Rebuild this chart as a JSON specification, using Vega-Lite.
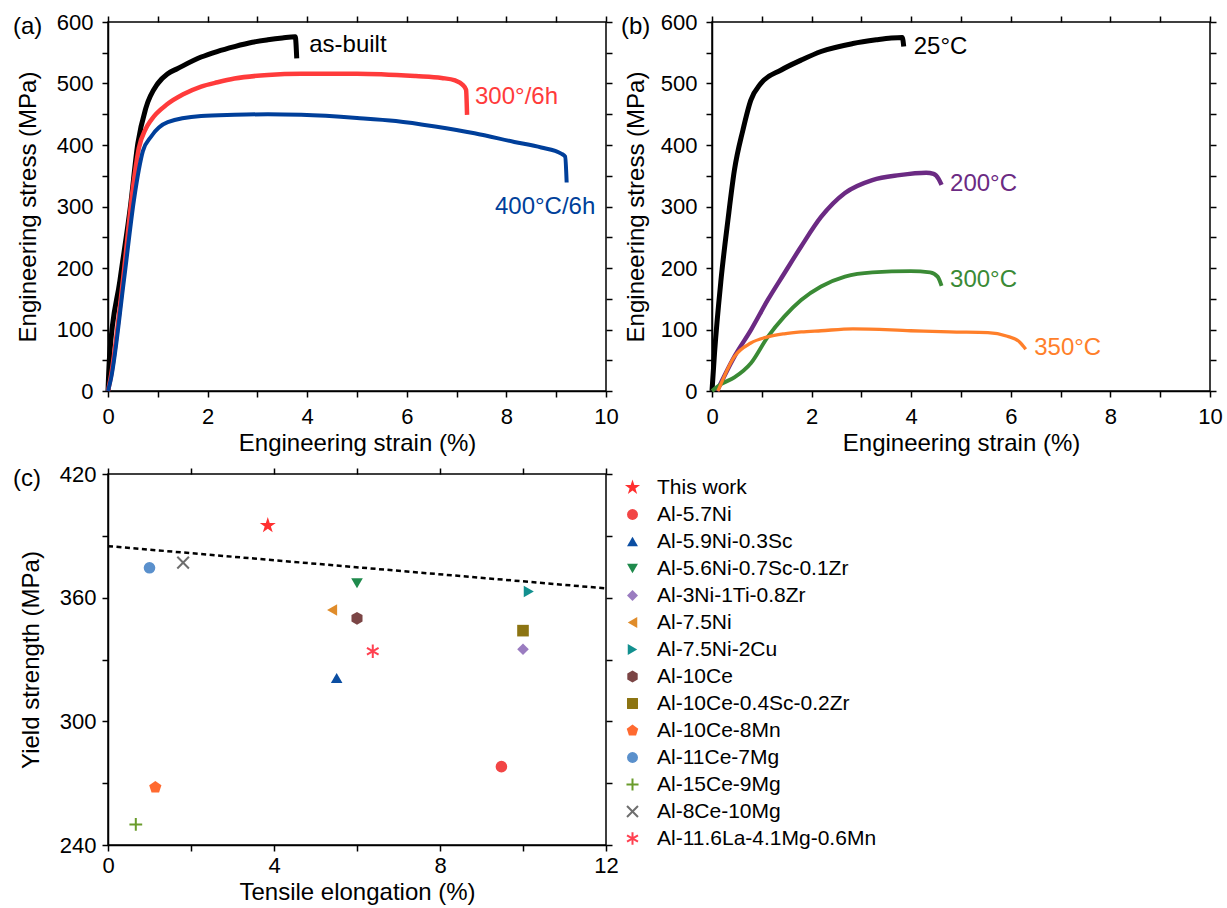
{
  "$schema": "https://vega.github.io/schema/vega-lite/v6.json",
  "background": "white",
  "padding": {"left": 12, "top": 10, "right": 0, "bottom": 0},
  "config": {
    "font": "Liberation Sans",
    "view": {"stroke": "black", "strokeWidth": 1.5},
    "axis": {"grid": false, "domainColor": "black", "domainWidth": 1.5, "tickColor": "black", "tickWidth": 1.5, "tickSize": 6,
      "labelFont": "Liberation Sans", "labelFontSize": 22, "labelColor": "black", "labelPadding": 9, "labelFlush": false, "labelOverlap": false,
      "titleFont": "Liberation Sans", "titleFontSize": 24, "titleFontWeight": "normal", "titleColor": "black"},
    "legend": {"labelFont": "Liberation Sans", "labelFontSize": 21, "labelColor": "black", "labelLimit": 0, "symbolSize": 120, "symbolStrokeWidth": 2, "rowPadding": 5, "offset": 6, "padding": 3, "labelOffset": 14},
    "title": {"font": "Liberation Sans", "fontSize": 24, "fontWeight": "normal", "color": "black"}
  },
  "resolve": {"scale": {"color": "independent", "strokeWidth": "independent", "fill": "independent", "stroke": "independent", "shape": "independent"}, "legend": {"fill": "independent", "stroke": "independent", "shape": "independent"}},
  "columns": 2,
  "spacing": {"row": 83, "column": 106},
  "bounds": "flush",
  "concat": [
    {
      "width": 498, "height": 369,
      "title": {"text": "(a)", "anchor": "start", "frame": "group", "dx": -95, "offset": 0, "dy": 40, "baseline": "middle"},
      "layer": [
        {
          "data": {"values": [
            {"series": "as-built", "strain": 0, "stress": 0}, {"series": "as-built", "strain": 0.03, "stress": 55}, {"series": "as-built", "strain": 0.24, "stress": 180}, {"series": "as-built", "strain": 0.45, "stress": 300}, {"series": "as-built", "strain": 0.6, "stress": 403}, {"series": "as-built", "strain": 0.76, "stress": 460}, {"series": "as-built", "strain": 1.0, "stress": 500}, {"series": "as-built", "strain": 1.2, "stress": 516}, {"series": "as-built", "strain": 1.39, "stress": 524}, {"series": "as-built", "strain": 1.87, "stress": 543}, {"series": "as-built", "strain": 2.19, "stress": 552}, {"series": "as-built", "strain": 2.54, "stress": 560}, {"series": "as-built", "strain": 2.9, "stress": 567}, {"series": "as-built", "strain": 3.21, "stress": 571}, {"series": "as-built", "strain": 3.5, "stress": 574}, {"series": "as-built", "strain": 3.76, "stress": 576}, {"series": "as-built", "strain": 3.79, "stress": 541},
            {"series": "300°/6h", "strain": 0, "stress": 0}, {"series": "300°/6h", "strain": 0.05, "stress": 20}, {"series": "300°/6h", "strain": 0.3, "stress": 180}, {"series": "300°/6h", "strain": 0.5, "stress": 330}, {"series": "300°/6h", "strain": 0.62, "stress": 395}, {"series": "300°/6h", "strain": 0.75, "stress": 425}, {"series": "300°/6h", "strain": 0.86, "stress": 440}, {"series": "300°/6h", "strain": 1.2, "stress": 467}, {"series": "300°/6h", "strain": 1.5, "stress": 482}, {"series": "300°/6h", "strain": 1.87, "stress": 495}, {"series": "300°/6h", "strain": 2.2, "stress": 502}, {"series": "300°/6h", "strain": 2.54, "stress": 508}, {"series": "300°/6h", "strain": 3.21, "stress": 514}, {"series": "300°/6h", "strain": 3.88, "stress": 516}, {"series": "300°/6h", "strain": 5.0, "stress": 516}, {"series": "300°/6h", "strain": 6.18, "stress": 512}, {"series": "300°/6h", "strain": 6.7, "stress": 509}, {"series": "300°/6h", "strain": 6.97, "stress": 505}, {"series": "300°/6h", "strain": 7.12, "stress": 498}, {"series": "300°/6h", "strain": 7.19, "stress": 490}, {"series": "300°/6h", "strain": 7.21, "stress": 449},
            {"series": "400°C/6h", "strain": 0, "stress": 0}, {"series": "400°C/6h", "strain": 0.06, "stress": 20}, {"series": "400°C/6h", "strain": 0.32, "stress": 180}, {"series": "400°C/6h", "strain": 0.52, "stress": 310}, {"series": "400°C/6h", "strain": 0.62, "stress": 360}, {"series": "400°C/6h", "strain": 0.7, "stress": 390}, {"series": "400°C/6h", "strain": 0.86, "stress": 413}, {"series": "400°C/6h", "strain": 1.2, "stress": 437}, {"series": "400°C/6h", "strain": 1.87, "stress": 447}, {"series": "400°C/6h", "strain": 2.54, "stress": 449}, {"series": "400°C/6h", "strain": 3.21, "stress": 450}, {"series": "400°C/6h", "strain": 3.88, "stress": 449}, {"series": "400°C/6h", "strain": 5.0, "stress": 444}, {"series": "400°C/6h", "strain": 5.78, "stress": 439}, {"series": "400°C/6h", "strain": 6.57, "stress": 430}, {"series": "400°C/6h", "strain": 7.36, "stress": 419}, {"series": "400°C/6h", "strain": 8.16, "stress": 405}, {"series": "400°C/6h", "strain": 8.7, "stress": 396}, {"series": "400°C/6h", "strain": 9.1, "stress": 386}, {"series": "400°C/6h", "strain": 9.18, "stress": 381}, {"series": "400°C/6h", "strain": 9.21, "stress": 339}
          ]},
          "mark": {"type": "line", "interpolate": "monotone"},
          "encoding": {
            "x": {"field": "strain", "type": "quantitative", "scale": {"domain": [0, 10], "nice": false, "zero": false},
              "axis": {"values": [0, 1, 2, 3, 4, 5, 6, 7, 8, 9, 10], "labelExpr": "datum.value % 2 === 0 ? datum.label : ''", "title": "Engineering strain (%)", "titlePadding": 4}},
            "y": {"field": "stress", "type": "quantitative", "scale": {"domain": [0, 600], "nice": false, "zero": false},
              "axis": {"values": [0, 50, 100, 150, 200, 250, 300, 350, 400, 450, 500, 550, 600], "labelExpr": "datum.value % 100 === 0 ? datum.label : ''", "title": "Engineering stress (MPa)", "titlePadding": 16}},
            "color": {"field": "series", "type": "nominal", "scale": {"domain": ["as-built", "300°/6h", "400°C/6h"], "range": ["#000000", "#ff3b3b", "#003f9a"]}, "legend": null},
            "strokeWidth": {"field": "series", "type": "ordinal", "scale": {"domain": ["as-built", "300°/6h", "400°C/6h"], "range": [5, 4, 4.5]}, "legend": null}
          }
        },
        {
          "data": {"values": [
            {"series": "as-built", "strain": 4.04, "stress": 563, "label": "as-built"},
            {"series": "300°/6h", "strain": 7.37, "stress": 478, "label": "300°/6h"},
            {"series": "400°C/6h", "strain": 7.77, "stress": 299, "label": "400°C/6h"}
          ]},
          "mark": {"type": "text", "align": "left", "baseline": "middle", "fontSize": 24},
          "encoding": {
            "x": {"field": "strain", "type": "quantitative", "scale": {"domain": [0, 10], "nice": false, "zero": false},
              "axis": {"orient": "top", "labels": false, "title": null, "domain": false, "values": [0, 1, 2, 3, 4, 5, 6, 7, 8, 9, 10]}},
            "y": {"field": "stress", "type": "quantitative", "scale": {"domain": [0, 600], "nice": false, "zero": false},
              "axis": {"orient": "right", "labels": false, "title": null, "domain": false, "values": [0, 50, 100, 150, 200, 250, 300, 350, 400, 450, 500, 550, 600]}},
            "text": {"field": "label"},
            "color": {"field": "series", "type": "nominal", "scale": {"domain": ["as-built", "300°/6h", "400°C/6h"], "range": ["#000000", "#ff3b3b", "#003f9a"]}, "legend": null}
          }
        }
      ],
      "resolve": {"axis": {"x": "independent", "y": "independent"}}
    },
    {
      "width": 498, "height": 369,
      "title": {"text": "(b)", "anchor": "start", "frame": "group", "dx": -91, "offset": 0, "dy": 40, "baseline": "middle"},
      "layer": [
        {
          "data": {"values": [
            {"temp": "25°C", "strain": 0, "stress": 0}, {"temp": "25°C", "strain": 0.05, "stress": 61}, {"temp": "25°C", "strain": 0.18, "stress": 180}, {"temp": "25°C", "strain": 0.32, "stress": 278}, {"temp": "25°C", "strain": 0.45, "stress": 359}, {"temp": "25°C", "strain": 0.62, "stress": 424}, {"temp": "25°C", "strain": 0.78, "stress": 473}, {"temp": "25°C", "strain": 0.98, "stress": 500}, {"temp": "25°C", "strain": 1.39, "stress": 522}, {"temp": "25°C", "strain": 1.79, "stress": 538}, {"temp": "25°C", "strain": 2.19, "stress": 552}, {"temp": "25°C", "strain": 2.83, "stress": 565}, {"temp": "25°C", "strain": 3.3, "stress": 571}, {"temp": "25°C", "strain": 3.6, "stress": 574}, {"temp": "25°C", "strain": 3.82, "stress": 575}, {"temp": "25°C", "strain": 3.85, "stress": 560},
            {"temp": "200°C", "strain": 0.1, "stress": 0}, {"temp": "200°C", "strain": 0.45, "stress": 56}, {"temp": "200°C", "strain": 0.78, "stress": 99}, {"temp": "200°C", "strain": 1.12, "stress": 148}, {"temp": "200°C", "strain": 1.45, "stress": 191}, {"temp": "200°C", "strain": 1.79, "stress": 235}, {"temp": "200°C", "strain": 2.19, "stress": 283}, {"temp": "200°C", "strain": 2.67, "stress": 322}, {"temp": "200°C", "strain": 3.22, "stress": 343}, {"temp": "200°C", "strain": 3.76, "stress": 351}, {"temp": "200°C", "strain": 4.3, "stress": 355}, {"temp": "200°C", "strain": 4.45, "stress": 353}, {"temp": "200°C", "strain": 4.55, "stress": 345}, {"temp": "200°C", "strain": 4.61, "stress": 335},
            {"temp": "300°C", "strain": 0, "stress": 0}, {"temp": "300°C", "strain": 0.18, "stress": 11}, {"temp": "300°C", "strain": 0.45, "stress": 22}, {"temp": "300°C", "strain": 0.78, "stress": 45}, {"temp": "300°C", "strain": 1.12, "stress": 88}, {"temp": "300°C", "strain": 1.45, "stress": 121}, {"temp": "300°C", "strain": 1.79, "stress": 148}, {"temp": "300°C", "strain": 2.19, "stress": 170}, {"temp": "300°C", "strain": 2.67, "stress": 186}, {"temp": "300°C", "strain": 3.22, "stress": 193}, {"temp": "300°C", "strain": 3.99, "stress": 195}, {"temp": "300°C", "strain": 4.38, "stress": 193}, {"temp": "300°C", "strain": 4.53, "stress": 186}, {"temp": "300°C", "strain": 4.61, "stress": 171},
            {"temp": "350°C", "strain": 0.12, "stress": 0}, {"temp": "350°C", "strain": 0.45, "stress": 56}, {"temp": "350°C", "strain": 0.78, "stress": 78}, {"temp": "350°C", "strain": 1.12, "stress": 88}, {"temp": "350°C", "strain": 1.45, "stress": 93}, {"temp": "350°C", "strain": 1.79, "stress": 96}, {"temp": "350°C", "strain": 2.19, "stress": 98}, {"temp": "350°C", "strain": 2.83, "stress": 101}, {"temp": "350°C", "strain": 3.99, "stress": 98}, {"temp": "350°C", "strain": 4.77, "stress": 96}, {"temp": "350°C", "strain": 5.54, "stress": 95}, {"temp": "350°C", "strain": 5.93, "stress": 89}, {"temp": "350°C", "strain": 6.16, "stress": 81}, {"temp": "350°C", "strain": 6.3, "stress": 68}
          ]},
          "mark": {"type": "line", "interpolate": "monotone"},
          "encoding": {
            "x": {"field": "strain", "type": "quantitative", "scale": {"domain": [0, 10], "nice": false, "zero": false},
              "axis": {"values": [0, 1, 2, 3, 4, 5, 6, 7, 8, 9, 10], "labelExpr": "datum.value % 2 === 0 ? datum.label : ''", "title": "Engineering strain (%)", "titlePadding": 4}},
            "y": {"field": "stress", "type": "quantitative", "scale": {"domain": [0, 600], "nice": false, "zero": false},
              "axis": {"values": [0, 50, 100, 150, 200, 250, 300, 350, 400, 450, 500, 550, 600], "labelExpr": "datum.value % 100 === 0 ? datum.label : ''", "title": "Engineering stress (MPa)", "titlePadding": 12}},
            "color": {"field": "temp", "type": "nominal", "scale": {"domain": ["25°C", "200°C", "300°C", "350°C"], "range": ["#000000", "#6b2a83", "#3a8a35", "#ff7f2a"]}, "legend": null},
            "strokeWidth": {"field": "temp", "type": "ordinal", "scale": {"domain": ["25°C", "200°C", "300°C", "350°C"], "range": [5, 3.3, 3.3, 3.3]}, "legend": null}
          }
        },
        {
          "data": {"values": [
            {"temp": "25°C", "strain": 4.05, "stress": 559, "label": "25°C"},
            {"temp": "200°C", "strain": 4.78, "stress": 337, "label": "200°C"},
            {"temp": "300°C", "strain": 4.78, "stress": 180, "label": "300°C"},
            {"temp": "350°C", "strain": 6.47, "stress": 70, "label": "350°C"}
          ]},
          "mark": {"type": "text", "align": "left", "baseline": "middle", "fontSize": 24},
          "encoding": {
            "x": {"field": "strain", "type": "quantitative", "scale": {"domain": [0, 10], "nice": false, "zero": false},
              "axis": {"orient": "top", "labels": false, "title": null, "domain": false, "values": [0, 1, 2, 3, 4, 5, 6, 7, 8, 9, 10]}},
            "y": {"field": "stress", "type": "quantitative", "scale": {"domain": [0, 600], "nice": false, "zero": false},
              "axis": {"orient": "right", "labels": false, "title": null, "domain": false, "values": [0, 50, 100, 150, 200, 250, 300, 350, 400, 450, 500, 550, 600]}},
            "text": {"field": "label"},
            "color": {"field": "temp", "type": "nominal", "scale": {"domain": ["25°C", "200°C", "300°C", "350°C"], "range": ["#000000", "#6b2a83", "#3a8a35", "#ff7f2a"]}, "legend": null}
          }
        }
      ],
      "resolve": {"axis": {"x": "independent", "y": "independent"}}
    },
    {
      "width": 498, "height": 371,
      "title": {"text": "(c)", "anchor": "start", "frame": "group", "dx": -95, "offset": 0, "dy": 40, "baseline": "middle"},
      "layer": [
        {
          "mark": {"type": "rect", "fill": {"gradient": "linear", "x1": 0, "y1": 0, "x2": 0, "y2": 1, "stops": [{"offset": 0, "color": "#ffffff"}, {"offset": 0.2, "color": "#fdfdfe"}, {"offset": 1, "color": "#d3e5ed"}]}},
          "encoding": {
            "x": {"datum": 0, "type": "quantitative", "scale": {"domain": [0, 12], "nice": false, "zero": false}, "axis": null},
            "x2": {"datum": 12},
            "y": {"datum": 420, "type": "quantitative", "scale": {"domain": [240, 420], "nice": false, "zero": false}, "axis": null},
            "y2": {"datum": 240}
          }
        },
        {
          "data": {"values": [{"elong": 0, "ys": 385}, {"elong": 12, "ys": 364.5}]},
          "mark": {"type": "line", "color": "black", "strokeWidth": 2.5, "strokeDash": [5, 3.5]},
          "encoding": {
            "x": {"field": "elong", "type": "quantitative", "scale": {"domain": [0, 12], "nice": false, "zero": false},
              "axis": {"orient": "top", "labels": false, "title": null, "domain": false, "values": [0, 2, 4, 6, 8, 10, 12]}},
            "y": {"field": "ys", "type": "quantitative", "scale": {"domain": [240, 420], "nice": false, "zero": false},
              "axis": {"orient": "right", "labels": false, "title": null, "domain": false, "values": [240, 270, 300, 330, 360, 390, 420]}}
          }
        },
        {
          "data": {"values": [
            {"name": "This work", "elong": 3.85, "ys": 395},
            {"name": "Al-5.7Ni", "elong": 9.48, "ys": 278},
            {"name": "Al-5.9Ni-0.3Sc", "elong": 5.51, "ys": 321},
            {"name": "Al-5.6Ni-0.7Sc-0.1Zr", "elong": 6.0, "ys": 367},
            {"name": "Al-3Ni-1Ti-0.8Zr", "elong": 10.0, "ys": 335},
            {"name": "Al-7.5Ni", "elong": 5.4, "ys": 354},
            {"name": "Al-7.5Ni-2Cu", "elong": 10.14, "ys": 363},
            {"name": "Al-10Ce", "elong": 6.0, "ys": 350},
            {"name": "Al-10Ce-0.4Sc-0.2Zr", "elong": 10.0, "ys": 344},
            {"name": "Al-10Ce-8Mn", "elong": 1.14, "ys": 268},
            {"name": "Al-11Ce-7Mg", "elong": 1.0, "ys": 374.5},
            {"name": "Al-15Ce-9Mg", "elong": 0.67, "ys": 250},
            {"name": "Al-8Ce-10Mg", "elong": 1.81, "ys": 377},
            {"name": "Al-11.6La-4.1Mg-0.6Mn", "elong": 6.38, "ys": 334}
          ]},
          "mark": {"type": "point", "filled": false, "size": 135, "strokeWidth": 2, "opacity": 1},
          "encoding": {
            "x": {"field": "elong", "type": "quantitative", "scale": {"domain": [0, 12], "nice": false, "zero": false},
              "axis": {"values": [0, 2, 4, 6, 8, 10, 12], "labelExpr": "datum.value % 4 === 0 ? datum.label : ''", "title": "Tensile elongation (%)", "labelPadding": 4, "titlePadding": 4}},
            "y": {"field": "ys", "type": "quantitative", "scale": {"domain": [240, 420], "nice": false, "zero": false},
              "axis": {"values": [240, 270, 300, 330, 360, 390, 420], "labelExpr": "(datum.value - 240) % 60 === 0 ? datum.label : ''", "title": "Yield strength (MPa)", "labelPadding": 6, "titlePadding": 16}},
            "shape": {"field": "name", "type": "nominal", "sort": null, "title": null,
              "scale": {"domain": ["This work", "Al-5.7Ni", "Al-5.9Ni-0.3Sc", "Al-5.6Ni-0.7Sc-0.1Zr", "Al-3Ni-1Ti-0.8Zr", "Al-7.5Ni", "Al-7.5Ni-2Cu", "Al-10Ce", "Al-10Ce-0.4Sc-0.2Zr", "Al-10Ce-8Mn", "Al-11Ce-7Mg", "Al-15Ce-9Mg", "Al-8Ce-10Mg", "Al-11.6La-4.1Mg-0.6Mn"],
                "range": ["M0,-1.45L0.33,-0.45L1.38,-0.45L0.53,0.17L0.85,1.17L0,0.56L-0.85,1.17L-0.53,0.17L-1.38,-0.45L-0.33,-0.45Z", "circle", "triangle-up", "triangle-down", "diamond", "triangle-left", "triangle-right", "M0,-1.1L0.95,-0.55L0.95,0.55L0,1.1L-0.95,0.55L-0.95,-0.55Z", "square", "M0,-1.1L1.05,-0.34L0.65,0.89L-0.65,0.89L-1.05,-0.34Z", "circle", "M-1.1,0L1.1,0M0,-1.1L0,1.1", "M-1,-1L1,1M-1,1L1,-1", "M0,-1.15L0,1.15M-1,-0.58L1,0.58M-1,0.58L1,-0.58"]}},
            "fill": {"field": "name", "type": "nominal", "sort": null, "title": null,
              "scale": {"domain": ["This work", "Al-5.7Ni", "Al-5.9Ni-0.3Sc", "Al-5.6Ni-0.7Sc-0.1Zr", "Al-3Ni-1Ti-0.8Zr", "Al-7.5Ni", "Al-7.5Ni-2Cu", "Al-10Ce", "Al-10Ce-0.4Sc-0.2Zr", "Al-10Ce-8Mn", "Al-11Ce-7Mg", "Al-15Ce-9Mg", "Al-8Ce-10Mg", "Al-11.6La-4.1Mg-0.6Mn"],
                "range": ["#ff3030", "#f24545", "#0b4ea2", "#1f8a4c", "#9a7cc0", "#e08c2a", "#12908f", "#7b4545", "#8c7412", "#ff6a30", "#5a90cc", "transparent", "transparent", "transparent"]}},
            "stroke": {"field": "name", "type": "nominal", "sort": null, "title": null,
              "scale": {"domain": ["This work", "Al-5.7Ni", "Al-5.9Ni-0.3Sc", "Al-5.6Ni-0.7Sc-0.1Zr", "Al-3Ni-1Ti-0.8Zr", "Al-7.5Ni", "Al-7.5Ni-2Cu", "Al-10Ce", "Al-10Ce-0.4Sc-0.2Zr", "Al-10Ce-8Mn", "Al-11Ce-7Mg", "Al-15Ce-9Mg", "Al-8Ce-10Mg", "Al-11.6La-4.1Mg-0.6Mn"],
                "range": ["transparent", "transparent", "transparent", "transparent", "transparent", "transparent", "transparent", "transparent", "transparent", "transparent", "transparent", "#6a9c2c", "#6e6e6e", "#ff4050"]}}
          }
        }
      ],
      "resolve": {"axis": {"x": "independent", "y": "independent"}}
    }
  ]
}
